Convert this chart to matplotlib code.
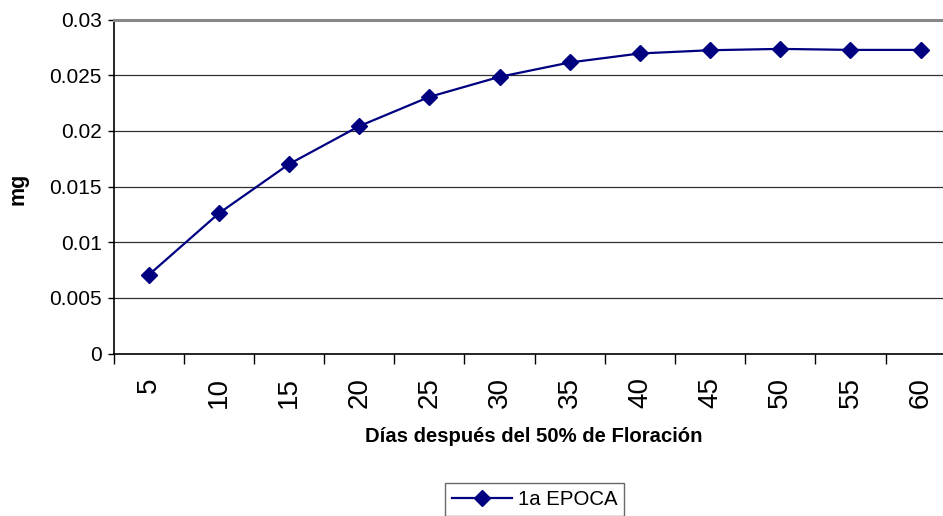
import matplotlib
matplotlib.use("Agg")
import matplotlib.pyplot as plt
import numpy as np

# Days after 50% flowering and dry weight (mg)
dias = ["5", "10", "15", "20", "25", "30", "35", "40", "45", "50", "55", "60"]
epoca1 = [0.00705, 0.01259, 0.01701, 0.02042, 0.02305, 0.02485,
          0.02614, 0.02695, 0.02724, 0.02736, 0.02727, 0.02727]
y_ticks = [0, 0.005, 0.01, 0.015, 0.02, 0.025, 0.03]
y_labels = ["0", "0.005", "0.01", "0.015", "0.02", "0.025", "0.03"]

plt.rcParams["font.family"] = ["Liberation Sans", "DejaVu Sans"]

fig = plt.figure(figsize=(9.43, 5.16), dpi=100, facecolor="white")
# plot area runs a bit past the right edge of the picture, like the reference
ax = fig.add_axes([0.1204, 0.3149, 0.8931, 0.6473])

x = np.arange(len(dias))
line, = ax.plot(x, epoca1, color="#000080", linewidth=1.6, marker="D",
                markersize=8, markerfacecolor="#000080",
                markeredgecolor="#000080", label="1a EPOCA", zorder=3)

ax.set_xlim(-0.5, len(dias) - 0.5)
ax.set_ylim(0, 0.03)

# y axis
ax.set_yticks(y_ticks)
ax.set_yticklabels(y_labels, fontsize=15)
ax.tick_params(axis="y", direction="out", length=4.5, width=1, pad=4)
for yv in y_ticks[1:-1]:
    ax.axhline(yv, color="#303030", linewidth=0.9, zorder=1)

# x axis: labels at category centres, tick marks on category edges
ax.set_xticks(x)
ax.set_xticklabels(dias, rotation=90, fontsize=20)
ax.set_xticks(np.arange(-0.5, len(dias)), minor=True)
ax.tick_params(axis="x", which="major", length=0, pad=17)
ax.tick_params(axis="x", which="minor", direction="out", length=7, width=1)

ax.spines["top"].set_color("#888888")
ax.spines["top"].set_linewidth(2.2)
ax.spines["right"].set_visible(False)
ax.spines["left"].set_color("black")
ax.spines["bottom"].set_color("black")
ax.spines["left"].set_linewidth(1.2)
ax.spines["bottom"].set_linewidth(1.2)

fig.text(534 / 943, 1 - 436 / 516, "Días después del 50% de Floración",
         ha="center", va="center", fontsize=14.6, fontweight="bold")
fig.text(17.5 / 943, 1 - 189 / 516, "mg", rotation=90,
         ha="center", va="center", fontsize=15.5, fontweight="bold")

leg = fig.legend(handles=[line], loc="upper center",
                 bbox_to_anchor=(534.8 / 943, 1 - 482.7 / 516),
                 fontsize=14.7, frameon=True, fancybox=False,
                 handlelength=2.9, borderpad=0.35, handletextpad=0.3,
                 borderaxespad=0)
leg.get_frame().set_edgecolor("#444444")
leg.get_frame().set_linewidth(1.0)

fig.savefig("out.png", dpi=100, facecolor="white")
